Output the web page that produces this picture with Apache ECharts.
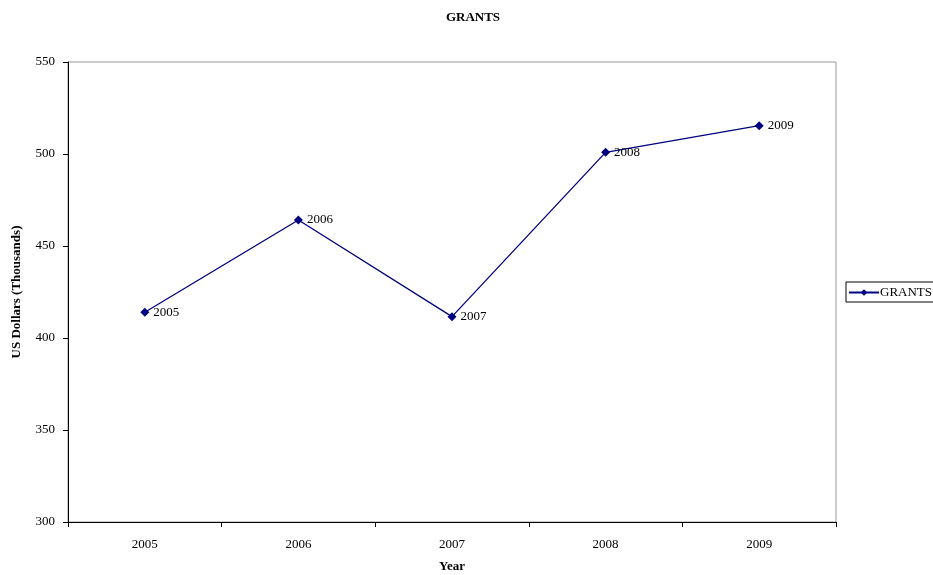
<!DOCTYPE html>
<html>
<head>
<meta charset="utf-8">
<script src="https://cdn.jsdelivr.net/npm/echarts@6/dist/echarts.min.js"></script>
<style>
html,body{margin:0;padding:0;background:#fff;}
#c{width:933px;height:575px;}
</style>
</head>
<body>
<div id="c"></div>
<script>
const years = ['2005', '2006', '2007', '2008', '2009'];
const grants = [414, 464.1, 411.6, 500.9, 515.4];
const yTicks = [300, 350, 400, 450, 500, 550];

const FONT = '"Liberation Serif", "DejaVu Serif", serif';
const chart = echarts.init(document.getElementById('c'), null, {renderer: 'canvas'});
chart.setOption({
  animation: false,
  backgroundColor: '#ffffff',
  textStyle: {fontFamily: FONT},
  title: {
    text: 'GRANTS',
    left: 468, top: 6,
    textAlign: 'center',
    textStyle: {fontFamily: FONT, fontSize: 13, fontWeight: 'bold', color: '#000'}
  },
  legend: {
    left: 846, top: 282,
    orient: 'vertical',
    data: ['GRANTS'],
    itemWidth: 30, itemHeight: 8,
    itemGap: 0,
    padding: [4, 6, 3, 2],
    borderColor: '#000', borderWidth: 1,
    textStyle: {fontFamily: FONT, fontSize: 13, color: '#000', padding: [0, 0, 0, -4]}
  },
  grid: {
    left: 68, right: 97, top: 62, bottom: 53,
    outerBoundsMode: 'none',
    containLabel: false,
    show: true, borderColor: '#999', borderWidth: 1, backgroundColor: '#fff'
  },
  xAxis: {
    type: 'category',
    data: years,
    boundaryGap: true,
    name: 'Year',
    nameLocation: 'middle',
    nameGap: 38,
    nameTextStyle: {fontFamily: FONT, fontSize: 13, fontWeight: 'bold', color: '#000'},
    axisLine: {lineStyle: {color: '#000', width: 1}},
    axisTick: {show: true, length: 5, alignWithLabel: false, lineStyle: {color: '#000'}},
    axisLabel: {fontFamily: FONT, fontSize: 13, color: '#000', margin: 16},
    splitLine: {show: false}
  },
  yAxis: {
    type: 'value',
    min: yTicks[0], max: yTicks[yTicks.length - 1], interval: 50,
    name: 'US Dollars (Thousands)',
    nameLocation: 'middle',
    nameGap: 45,
    nameRotate: 90,
    nameTextStyle: {fontFamily: FONT, fontSize: 13, fontWeight: 'bold', color: '#000'},
    axisLine: {show: true, lineStyle: {color: '#000', width: 1}},
    axisTick: {show: true, length: 5, lineStyle: {color: '#000'}},
    axisLabel: {fontFamily: FONT, fontSize: 13, color: '#000', margin: 13},
    splitLine: {show: false}
  },
  series: [{
    name: 'GRANTS',
    type: 'line',
    data: grants,
    symbol: 'diamond',
    symbolSize: 9,
    itemStyle: {color: '#000080'},
    lineStyle: {color: '#000080', width: 1.3},
    label: {
      show: true,
      position: 'right',
      distance: 4,
      formatter: (p) => years[p.dataIndex],
      fontFamily: FONT, fontSize: 13, color: '#000'
    }
  }]
});
</script>
</body>
</html>
